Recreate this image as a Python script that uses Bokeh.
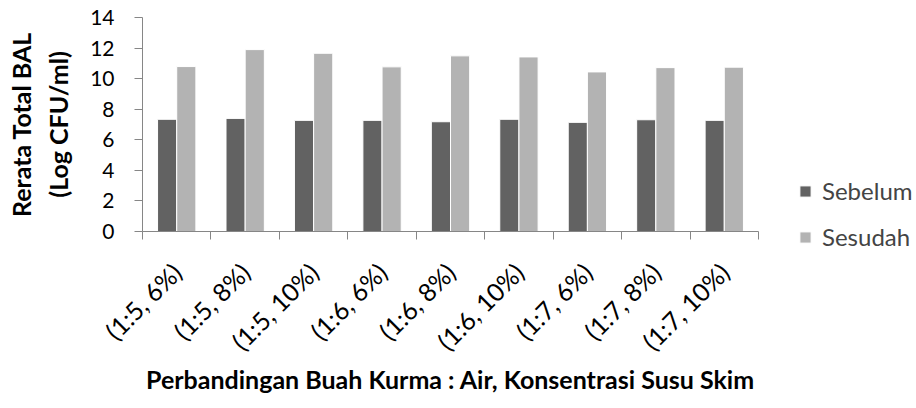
import math
from bokeh.plotting import figure
from bokeh.models import Range1d, FixedTicker, Legend, LegendItem
from bokeh.transform import dodge
from bokeh.embed import file_html
from bokeh.resources import INLINE

categories = ["(1:5, 6%)", "(1:5, 8%)", "(1:5, 10%)", "(1:6, 6%)", "(1:6, 8%)",
              "(1:6, 10%)", "(1:7, 6%)", "(1:7, 8%)", "(1:7, 10%)"]
sebelum = [7.34, 7.40, 7.27, 7.27, 7.18, 7.34, 7.14, 7.31, 7.27]
sesudah = [10.79, 11.90, 11.66, 10.77, 11.49, 11.42, 10.44, 10.72, 10.75]
y_ticks = [0, 2, 4, 6, 8, 10, 12, 14]

FONT = "Lato"
centers = [i + 0.5 for i in range(len(categories))]
bounds = [i for i in range(len(categories) + 1)]

p = figure(frame_width=616, frame_height=214, output_backend="svg", toolbar_location=None,
           x_range=Range1d(0, len(categories)), y_range=Range1d(0, 14),
           min_border_left=142, min_border_top=17, min_border_right=158, min_border_bottom=172)
p.outline_line_color = None
p.xgrid.visible = False
p.ygrid.visible = False

src = dict(x=centers, sebelum=sebelum, sesudah=sesudah)
r1 = p.vbar(x=dodge("x", -0.14), top="sebelum", width=0.28, source=src,
            fill_color="#626262", line_color="#ffffff", line_width=1)
r2 = p.vbar(x=dodge("x", 0.14), top="sesudah", width=0.28, source=src,
            fill_color="#b3b3b3", line_color="#ffffff", line_width=1)

xa = p.xaxis[0]
xa.ticker = FixedTicker(ticks=centers, minor_ticks=bounds)
xa.major_label_overrides = {c: lab for c, lab in zip(centers, categories)}
xa.major_label_orientation = math.pi / 4
xa.major_tick_line_color = None
xa.minor_tick_in = 0
xa.minor_tick_out = 8
xa.minor_tick_line_color = "#868686"
xa.axis_line_color = "#868686"
xa.major_label_text_font = FONT
xa.major_label_text_font_size = "25px"
xa.major_label_text_color = "#000000"
xa.major_label_standoff = 28
xa.axis_label = "Perbandingan Buah Kurma : Air, Konsentrasi Susu Skim"
xa.axis_label_text_font = FONT
xa.axis_label_text_font_style = "bold"
xa.axis_label_text_font_size = "25px"
xa.axis_label_text_color = "#000000"
xa.axis_label_standoff = -5

ya = p.yaxis[0]
ya.ticker = FixedTicker(ticks=y_ticks)
ya.minor_tick_line_color = None
ya.major_tick_in = 0
ya.major_tick_out = 8
ya.major_tick_line_color = "#868686"
ya.axis_line_color = "#868686"
ya.major_label_text_font = FONT
ya.major_label_text_font_size = "21px"
ya.major_label_text_color = "#000000"
ya.major_label_standoff = 20
ya.axis_label = "Rerata Total BAL\n(Log CFU/ml)"
ya.axis_label_text_font = FONT
ya.axis_label_text_font_style = "bold"
ya.axis_label_text_font_size = "25px"
ya.axis_label_text_line_height = 1.25
ya.axis_label_text_color = "#000000"
ya.axis_label_standoff = 14

legend = Legend(items=[LegendItem(label="Sebelum", renderers=[r1]),
                       LegendItem(label="Sesudah", renderers=[r2])],
                location=(40, -20), border_line_color=None, background_fill_alpha=0,
                glyph_width=14, glyph_height=14, label_text_font=FONT,
                label_text_font_size="24px", spacing=17, padding=0, margin=0,
                label_standoff=10)
p.add_layout(legend, "right")

open("out.html", "w").write(file_html(p, INLINE))
